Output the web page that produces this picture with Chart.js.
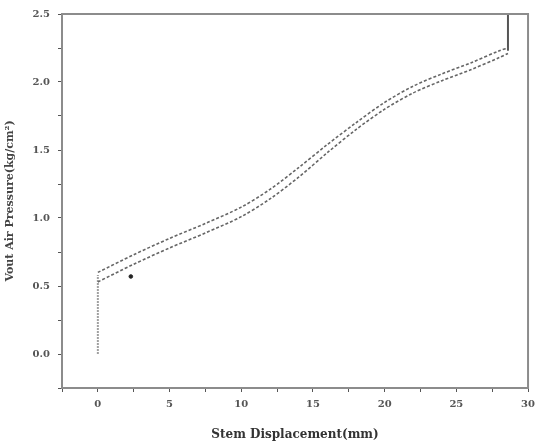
<!DOCTYPE html>
<html>
<head>
<meta charset="utf-8">
<script src="https://cdn.jsdelivr.net/npm/chart.js@4/dist/chart.umd.min.js"></script>
<style>
  html, body { margin: 0; padding: 0; background: #fff; }
  canvas { display: block; }
</style>
</head>
<body>
<canvas id="chart" width="541" height="446"></canvas>
<script>
// stem displacement (mm) / air pressure readings
const upperX = [0, 2.5, 5, 7.5, 10, 12, 14, 16, 18, 20, 22, 24, 26, 28, 28.6];
const upperY = [0.60, 0.73, 0.85, 0.96, 1.08, 1.21, 1.37, 1.54, 1.70, 1.85, 1.97, 2.06, 2.14, 2.23, 2.25];
const lowerX = [0, 2.5, 5, 7.5, 10, 12, 14, 16, 18, 20, 22, 24, 26, 28, 28.6];
const lowerY = [0.53, 0.66, 0.78, 0.89, 1.01, 1.14, 1.30, 1.48, 1.65, 1.80, 1.92, 2.01, 2.09, 2.18, 2.21];
const startX = [0, 0];
const startY = [0.0, 0.58];
const endX = [28.6, 28.6];
const endY = [2.23, 2.5];
const strayX = [2.3];
const strayY = [0.57];

const xTicks = [0, 5, 10, 15, 20, 25, 30];
const yTicks = [0.0, 0.5, 1.0, 1.5, 2.0, 2.5];

function pts(xs, ys) {
  return xs.map((x, i) => ({ x: x, y: ys[i] }));
}

const lineStyle = {
  borderColor: '#666',
  borderWidth: 1.6,
  borderDash: [3, 2],
  pointRadius: 0,
  showLine: true,
  tension: 0.3,
  fill: false
};

const frame = {
  id: 'frame',
  afterDraw(chart) {
    const a = chart.chartArea;
    const ctx = chart.ctx;
    ctx.save();
    ctx.strokeStyle = '#8c8c8c';
    ctx.lineWidth = 2;
    ctx.strokeRect(a.left, a.top, a.right - a.left, a.bottom - a.top);
    ctx.restore();
  }
};

const ctx = document.getElementById('chart').getContext('2d');
new Chart(ctx, {
  type: 'scatter',
  data: {
    datasets: [
      Object.assign({ data: pts(upperX, upperY) }, lineStyle),
      Object.assign({ data: pts(lowerX, lowerY) }, lineStyle),
      { data: pts(startX, startY), showLine: true, borderColor: '#a0a0a0', borderWidth: 2, borderDash: [2, 1], pointRadius: 0 },
      { data: pts(endX, endY), showLine: true, borderColor: '#555', borderWidth: 2, pointRadius: 0 },
      { data: pts(strayX, strayY), showLine: false, pointRadius: 1.8, backgroundColor: '#222', borderColor: '#222' }
    ]
  },
  options: {
    responsive: false,
    animation: false,
    layout: { padding: { top: 13, right: 11, left: 0, bottom: 0 } },
    plugins: { legend: { display: false }, tooltip: { enabled: false } },
    scales: {
      x: {
        type: 'linear',
        min: -2.5,
        max: 30,
        afterFit: s => { s.height = 58; },
        ticks: {
          stepSize: 2.5,
          autoSkip: false,
          maxRotation: 0,
          padding: 6,
          color: '#555',
          font: { family: 'DejaVu Serif', size: 10, weight: 'bold' },
          callback: v => xTicks.includes(v) ? String(v) : ''
        },
        grid: { drawOnChartArea: false, drawTicks: true, tickLength: 4, color: '#555' },
        border: { display: true, color: '#8c8c8c', width: 2 },
        title: {
          display: true,
          text: 'Stem Displacement(mm)',
          color: '#333',
          padding: { top: 6 },
          font: { family: 'DejaVu Serif', size: 12, weight: 'bold' }
        }
      },
      y: {
        type: 'linear',
        min: -0.25,
        max: 2.5,
        afterFit: s => { s.width = 62; },
        ticks: {
          stepSize: 0.25,
          autoSkip: false,
          padding: 8,
          color: '#555',
          font: { family: 'DejaVu Serif', size: 10, weight: 'bold' },
          callback: v => yTicks.some(t => Math.abs(t - v) < 1e-6) ? v.toFixed(1) : ''
        },
        grid: { drawOnChartArea: false, drawTicks: true, tickLength: 4, color: '#555' },
        border: { display: true, color: '#8c8c8c', width: 2 },
        title: {
          display: true,
          text: 'Vout Air Pressure(kg/cm²)',
          color: '#444',
          padding: { bottom: 4 },
          font: { family: 'DejaVu Serif', size: 11, weight: 'bold' }
        }
      }
    }
  },
  plugins: [frame]
});
</script>
</body>
</html>
